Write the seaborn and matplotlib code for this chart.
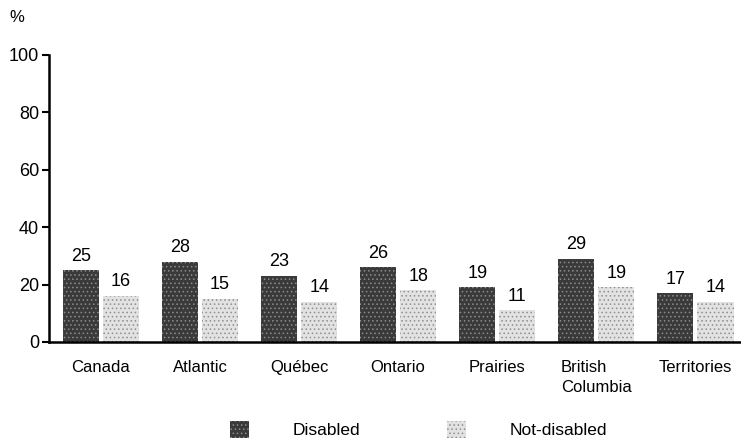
import numpy as np
import pandas as pd
import matplotlib
matplotlib.use("Agg")
import matplotlib.pyplot as plt
import seaborn as sns

regions = ["Canada", "Atlantic", "Québec", "Ontario", "Prairies", "British\nColumbia", "Territories"]
disabled = [25, 28, 23, 26, 19, 29, 17]
not_disabled = [16, 15, 14, 18, 11, 19, 14]
groups = ["Disabled", "Not-disabled"]
yticks = [0, 20, 40, 60, 80, 100]

df = pd.DataFrame({
    "region": regions * 2,
    "group": [groups[0]] * len(regions) + [groups[1]] * len(regions),
    "pct": disabled + not_disabled,
})

sns.set_style("white")
plt.rcParams["font.family"] = ["Liberation Sans", "DejaVu Sans"]
plt.rcParams["hatch.linewidth"] = 0.6
plt.rcParams["text.color"] = "black"
plt.rcParams["xtick.color"] = "black"
plt.rcParams["ytick.color"] = "black"

fig = plt.figure(figsize=(7.41, 4.47), dpi=100)
ax = fig.add_axes([0.066, 0.235, 0.934, 0.642])

sns.barplot(data=df, x="region", y="pct", hue="group", order=regions, hue_order=groups,
            palette=["#3a3a3a", "#d6d6d6"], width=0.81, gap=0.1, saturation=1,
            legend=False, ax=ax)

styles = {0: ("#3a3a3a", "#8c8c8c"), 1: ("#e2e2e2", "#8f8f8f")}
for i, cont in enumerate(ax.containers):
    face, hatchc = styles[i]
    for p in cont:
        p.set_facecolor(face)
        p.set_edgecolor(hatchc)
        p.set_hatch("....")
        p.set_linewidth(0)
    ax.bar_label(cont, fmt="%d", padding=4, fontsize=13, color="black")

ax.set_ylim(0, 100)
ax.set_xlim(-0.525, 6.46)
ax.set_yticks(yticks)
ax.tick_params(axis="y", labelsize=13, length=5, width=1.5, direction="out", left=True, pad=2)
ax.tick_params(axis="x", labelsize=12, length=0, pad=13)
for lbl in ax.get_xticklabels():
    lbl.set_multialignment("left")
    lbl.set_linespacing(1.45)
for s in ["top", "right"]:
    ax.spines[s].set_visible(False)
for s in ["left", "bottom"]:
    ax.spines[s].set_linewidth(1.8)
    ax.spines[s].set_color("black")
ax.set_xlabel("")
ax.set_ylabel("")

fig.text(0.012, 0.95, "%", fontsize=12)

handles = [matplotlib.patches.Patch(facecolor=styles[i][0], edgecolor=styles[i][1], hatch="....", linewidth=0)
           for i in range(2)]
fig.legend(handles, groups, loc="lower center", bbox_to_anchor=(0.565, -0.015), ncol=2, frameon=False,
           fontsize=12.5, handlelength=1.1, handleheight=1.1, columnspacing=5.0, handletextpad=2.5)

fig.savefig("out.png", dpi=100)
